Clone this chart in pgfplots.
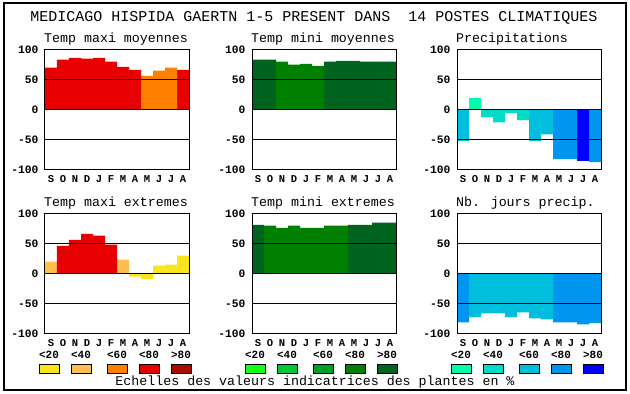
\documentclass[border=0pt]{standalone}
\usepackage{pgfplots}
\pgfplotsset{compat=1.18}
\usepackage{fontspec}
\setmainfont{Liberation Mono}
\definecolor{cYel}{RGB}{250,228,30}
\definecolor{cLor}{RGB}{255,190,80}
\definecolor{cOra}{RGB}{255,128,0}
\definecolor{cRed}{RGB}{232,0,0}
\definecolor{cDrd}{RGB}{170,12,0}
\definecolor{gA}{RGB}{20,255,20}
\definecolor{gB}{RGB}{0,200,50}
\definecolor{gC}{RGB}{0,160,40}
\definecolor{gD}{RGB}{0,128,0}
\definecolor{gE}{RGB}{0,100,30}
\definecolor{bA}{RGB}{0,255,170}
\definecolor{bB}{RGB}{0,220,200}
\definecolor{bC}{RGB}{0,190,220}
\definecolor{bD}{RGB}{0,150,240}
\definecolor{bE}{RGB}{0,0,255}
\pgfplotsset{
  panel/.style={
    scale only axis, width=144pt, height=120pt,
    xmin=0, xmax=12, ymin=-100, ymax=100,
    xtick={0.5,1.5,...,11.5}, xticklabels={S,O,N,D,J,F,M,A,M,J,J,A},
    ytick={-100,-50,0,50,100}, yticklabels={-100,-50,0,50,100},
    major tick length=0pt,
    ymajorgrids, grid style={black, line width=1pt},
    axis line style={line width=1pt},
    axis on top,
    yticklabel style={font=\bfseries\fontsize{11.3}{11.3}\selectfont, xshift=-3pt},
    xticklabel style={font=\bfseries\fontsize{10.5}{10.5}\selectfont, yshift=-2pt},
    anchor=south west,
  },
  bb/.style={ybar, bar width=1, bar shift=0pt, draw=none, fill=#1},
}
\begin{document}
\begin{tikzpicture}[x=1pt,y=1pt]
\path (0,0) rectangle (630,394);
\draw[line width=1.2pt] (4,4) rectangle (626,391);
\node[anchor=base, font=\fontsize{15}{15}\selectfont] at (314,372) {MEDICAGO HISPIDA GAERTN 1-5 PRESENT DANS\ \ 14 POSTES CLIMATIQUES};
% titles
\tikzset{ptitle/.style={anchor=base west, inner sep=0pt, font=\fontsize{13.3}{13.3}\selectfont}}
\node[ptitle] at (44,351) {Temp maxi moyennes};
\node[ptitle] at (251,351) {Temp mini moyennes};
\node[ptitle] at (456,351) {Precipitations};
\node[ptitle] at (44,187) {Temp maxi extremes};
\node[ptitle] at (251,187) {Temp mini extremes};
\node[ptitle] at (456,187) {Nb. jours precip.};
% Panel 1
\begin{axis}[panel, at={(45pt,224pt)}]
\addplot[bb=cRed] coordinates {(0.5,70.5)(1.5,84)(2.5,87)(3.5,85.5)(4.5,87)(5.5,80.5)(6.5,72)(7.5,67)(11.5,67)};
\addplot[bb=cOra] coordinates {(8.5,57)(9.5,65.5)(10.5,70.5)};
\end{axis}
% Panel 2
\begin{axis}[panel, at={(252pt,224pt)}]
\addplot[bb=gE] coordinates {(0.5,84)(1.5,84)(6.5,80.5)(7.5,82)(8.5,82)(9.5,80.5)(10.5,80.5)(11.5,80.5)};
\addplot[bb=gD] coordinates {(2.5,80.5)(3.5,75.5)(4.5,77)(5.5,73.5)};
\end{axis}
% Panel 3
\begin{axis}[panel, at={(457pt,224pt)}]
\addplot[bb=bC] coordinates {(0.5,-52)(6.5,-52)(7.5,-40.5)};
\addplot[bb=bA] coordinates {(1.5,20.5)};
\addplot[bb=bB] coordinates {(2.5,-12)(3.5,-20.5)(4.5,-5)(5.5,-17)};
\addplot[bb=bD] coordinates {(8.5,-82)(9.5,-82)(11.5,-87)};
\addplot[bb=bE] coordinates {(10.5,-85.5)};
\end{axis}
% Panel 4
\begin{axis}[panel, at={(45pt,60pt)}]
\addplot[bb=cLor] coordinates {(0.5,20.5)(6.5,24)};
\addplot[bb=cRed] coordinates {(1.5,47)(2.5,57)(3.5,67)(4.5,64)(5.5,49)};
\addplot[bb=cYel] coordinates {(7.5,-4.5)(8.5,-8)(9.5,14)(10.5,15.5)(11.5,30.5)};
\end{axis}
% Panel 5
\begin{axis}[panel, at={(252pt,60pt)}]
\addplot[bb=gE] coordinates {(0.5,82)(8.5,82)(9.5,82)(10.5,85.5)(11.5,85.5)};
\addplot[bb=gD] coordinates {(1.5,80.5)(2.5,77)(3.5,80.5)(4.5,77)(5.5,77)(6.5,80.5)(7.5,80.5)};
\end{axis}
% Panel 6
\begin{axis}[panel, at={(457pt,60pt)}]
\addplot[bb=bD] coordinates {(0.5,-80.5)(8.5,-80.5)(9.5,-80.5)(10.5,-84)(11.5,-82)};
\addplot[bb=bC] coordinates {(1.5,-72)(2.5,-65.5)(3.5,-65.5)(4.5,-72)(5.5,-64)(6.5,-74)(7.5,-75.5)};
\end{axis}
% legend
\foreach \x/\l/\c in {49/<20/cYel, 81/<40/cLor, 117/<60/cOra, 149/<80/cRed, 181/>80/cDrd,
                      255/<20/gA, 287/<40/gB, 323/<60/gC, 355/<80/gD, 387/>80/gE,
                      461/<20/bA, 493/<40/bB, 529/<60/bC, 561/<80/bD, 593/>80/bE}{
  \node[font=\bfseries\fontsize{11}{11}\selectfont, inner sep=0pt] at (\x,39.5) {\l};
  \draw[fill=\c, line width=0.8pt] (\x-10,21) rectangle (\x+10,30);
}
\node[anchor=base, font=\fontsize{13.3}{13.3}\selectfont] at (315,8) {Echelles des valeurs indicatrices des plantes en \%};
\end{tikzpicture}
\end{document}
